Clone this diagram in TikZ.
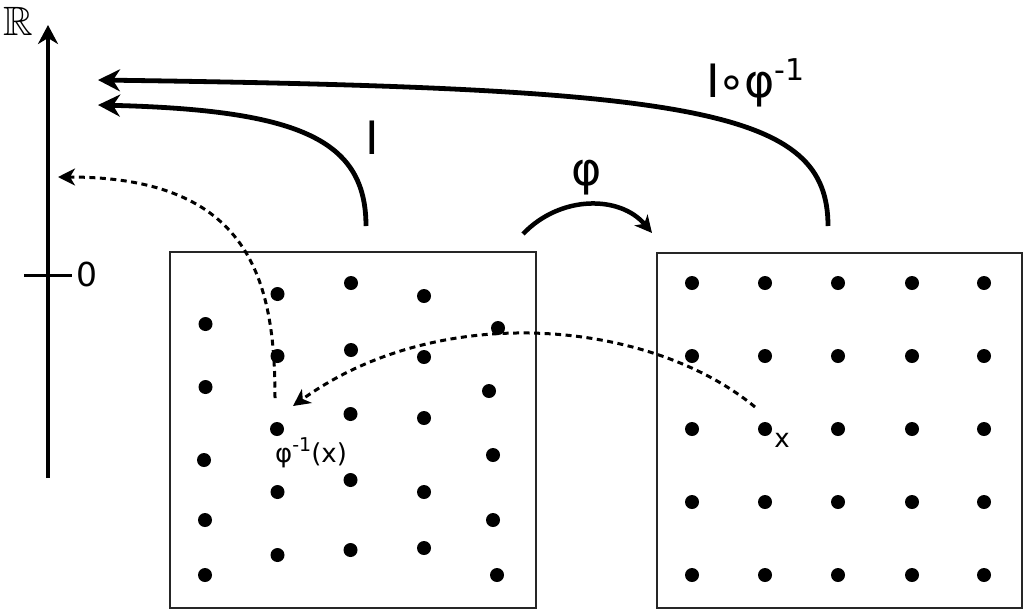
\documentclass[tikz,border=0pt]{standalone}
\usepackage{amssymb}
\usepackage{fontspec}
\setmainfont{DejaVu Sans}
\usetikzlibrary{arrows.meta}
\begin{document}
\begin{tikzpicture}[x=1pt,y=-1pt,
  dot/.style={circle,fill=black,inner sep=0pt,minimum size=14pt},
  frame/.style={draw=black!85,line width=2.6pt,inner sep=0pt},
  axisline/.style={line width=4.3pt,-{Stealth[length=19pt,width=20pt,inset=6pt]}},
  tickline/.style={line width=3pt},
  bigarrow/.style={line width=4.8pt,-{Stealth[length=22pt,width=22pt,inset=7pt]}},
  midarrow/.style={line width=4.5pt,-{Stealth[length=17pt,width=17pt,inset=5pt]}},
  dotarrow/.style={line width=3pt,dash pattern=on 6pt off 4.5pt,-{Stealth[length=17pt,width=17pt,inset=5pt]}},
  biglabel/.style={inner sep=0pt,font=\fontsize{46}{46}\selectfont},
  smalllabel/.style={inner sep=0pt,font=\fontsize{26}{26}\selectfont}
]
\useasboundingbox (0,0) rectangle (1024,611);

% axis
\coordinate (axb) at (48,478);
\coordinate (axt) at (48,25);
\draw[axisline] (axb) -- (axt);
\coordinate (t1) at (24,275);
\coordinate (t2) at (72,275);
\draw[tickline] (t1) -- (t2);
\node[inner sep=0pt,font=\fontsize{33}{33}\selectfont] (zero) at (87,274) {0};
\node[inner sep=0pt,font=\fontsize{41}{41}\selectfont] (R) at (18.5,21) {$\mathbb{R}$};

% boxes
\node[frame,minimum width=366pt,minimum height=356pt] (L) at (353,430) {};
\node[frame,minimum width=365pt,minimum height=355pt] (Rb) at (839.5,430.5) {};

% dots left box
\foreach \p [count=\i] in {(205.5,324),(205.5,387),(204,460),(205,520),(205,575),
  (277.5,294),(277.5,356),(277,429),(277.5,492),(277.5,555),
  (351,283),(351,350),(350.5,414),(350.5,480),(350.5,550),
  (424,296),(424,357),(424,418),(424,492),(424,548),
  (498,328),(489,391),(493,455),(493,520),(497,575)}
  \node[dot] (ld\i) at \p {};

% dots right box
\foreach \x [count=\i] in {692,765,838,912,984}
  \foreach \y [count=\j] in {283,356,429,502,575}
    \node[dot] (rd\i\j) at (\x,\y) {};

% big arrows
\coordinate (s1) at (828,226);
\coordinate (e1) at (98,80);
\draw[bigarrow] (s1) .. controls (828,110) and (700,88) .. (e1);
\coordinate (s2) at (366,226);
\coordinate (e2) at (98,105);
\draw[bigarrow] (s2) .. controls (366,140) and (300,110) .. (e2);

% phi arrow
\coordinate (ps) at (523,234);
\coordinate (pe) at (652,233);
\draw[midarrow] (ps) .. controls (560,195) and (620,195) .. (pe);

% dotted arrows
\coordinate (d1s) at (275,398);
\coordinate (d1e) at (58,177);
\draw[dotarrow] (d1s) .. controls (275,280) and (250,177) .. (d1e);
\coordinate (d2s) at (755,407);
\coordinate (d2e) at (293,406);
\draw[dotarrow] (d2s) .. controls (650,320) and (440,300) .. (d2e);

% labels
\node[biglabel] (lI) at (372,138) {I};
\node[biglabel,anchor=base west] (lIphi) at (706,97) {I\kern-2pt∘\kern-2ptφ\raisebox{17pt}{\fontsize{30}{30}\selectfont -1}};
\node[biglabel] (lphi) at (587,178) {φ};
\node[smalllabel] (lx) at (782,440) {x};
\node[smalllabel,anchor=base west] (lpx) at (275,462) {φ\raisebox{11pt}{\fontsize{19}{19}\selectfont -1}(x)};
\end{tikzpicture}
\end{document}
